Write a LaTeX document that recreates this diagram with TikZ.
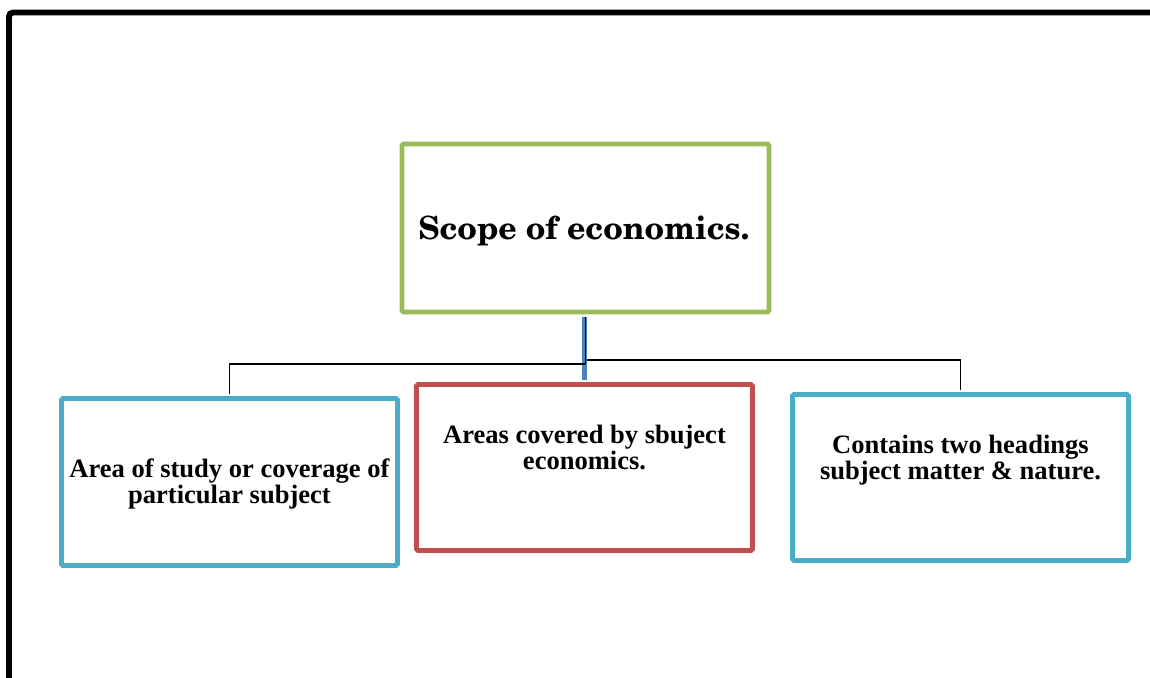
\documentclass[tikz,border=0pt]{standalone}
\usepackage[T1]{fontenc}
\usepackage{fontspec}
\setmainfont{Liberation Serif}
\usetikzlibrary{calc}
\definecolor{boxgreen}{HTML}{9BBB59}
\definecolor{boxred}{HTML}{C0504D}
\definecolor{boxblue}{HTML}{4BACC6}
\definecolor{linkblue}{HTML}{4F81BD}
% bold New Century Schoolbook for the heading box
\newcommand\schoolbook{\fontencoding{T1}\fontfamily{pnc}\fontseries{b}\selectfont}

\begin{document}
\begin{tikzpicture}[x=0.75pt,y=-0.75pt,
  panel/.style={draw, line width=3.4pt, inner sep=0pt, rounded corners=1pt},
  label/.style={inner sep=0pt, align=center, anchor=north,
                font=\bfseries\fontsize{19.9}{19.5}\selectfont},
  link/.style={draw=black, line width=1.3pt, shorten <=1.7pt, shorten >=1.7pt},
  trunk/.style={draw=linkblue, line width=3.8pt, shorten <=1.7pt, shorten >=1.7pt},
]
\useasboundingbox (0,0) rectangle (1150,678);
\clip (0,0) rectangle (1150,678);

% outer frame
\draw[line width=4.4pt, rounded corners=3pt] (9,12.5) rectangle (1175,705);

% boxes
\node[panel, draw=boxgreen, minimum width=275.25pt, minimum height=126pt] (top) at (585.5,228) {};
\node[panel, draw=boxblue, minimum width=252pt, minimum height=125.25pt] (left) at (229.5,482) {};
\node[panel, draw=boxred, minimum width=252pt, minimum height=124.5pt] (mid) at (584.5,467.5) {};
\node[panel, draw=boxblue, minimum width=252pt, minimum height=124.5pt] (right) at (960.5,477.5) {};

% texts
\node[inner sep=0pt, anchor=base, font=\schoolbook\fontsize{24}{27}\selectfont] (toptext) at (584,239) {Scope of economics.};
\node[label] (lefttext) at (229.5,459) {Area of study or coverage of\\particular subject};
\node[label] (midtext) at (584.5,425) {Areas covered by sbuject\\economics.};
\node[label] (righttext) at (960.5,435) {Contains two headings\\subject matter \& nature.};

% connectors
\draw[trunk] (top.south -| mid.north) -- (mid.north);
\draw[link] (top.south) -- ($(top.south)+(0,50)$) -| (left.north);
\draw[link, shorten <=0pt] ($(top.south)+(1.5,46)$) -| (right.north);
\end{tikzpicture}
\end{document}
